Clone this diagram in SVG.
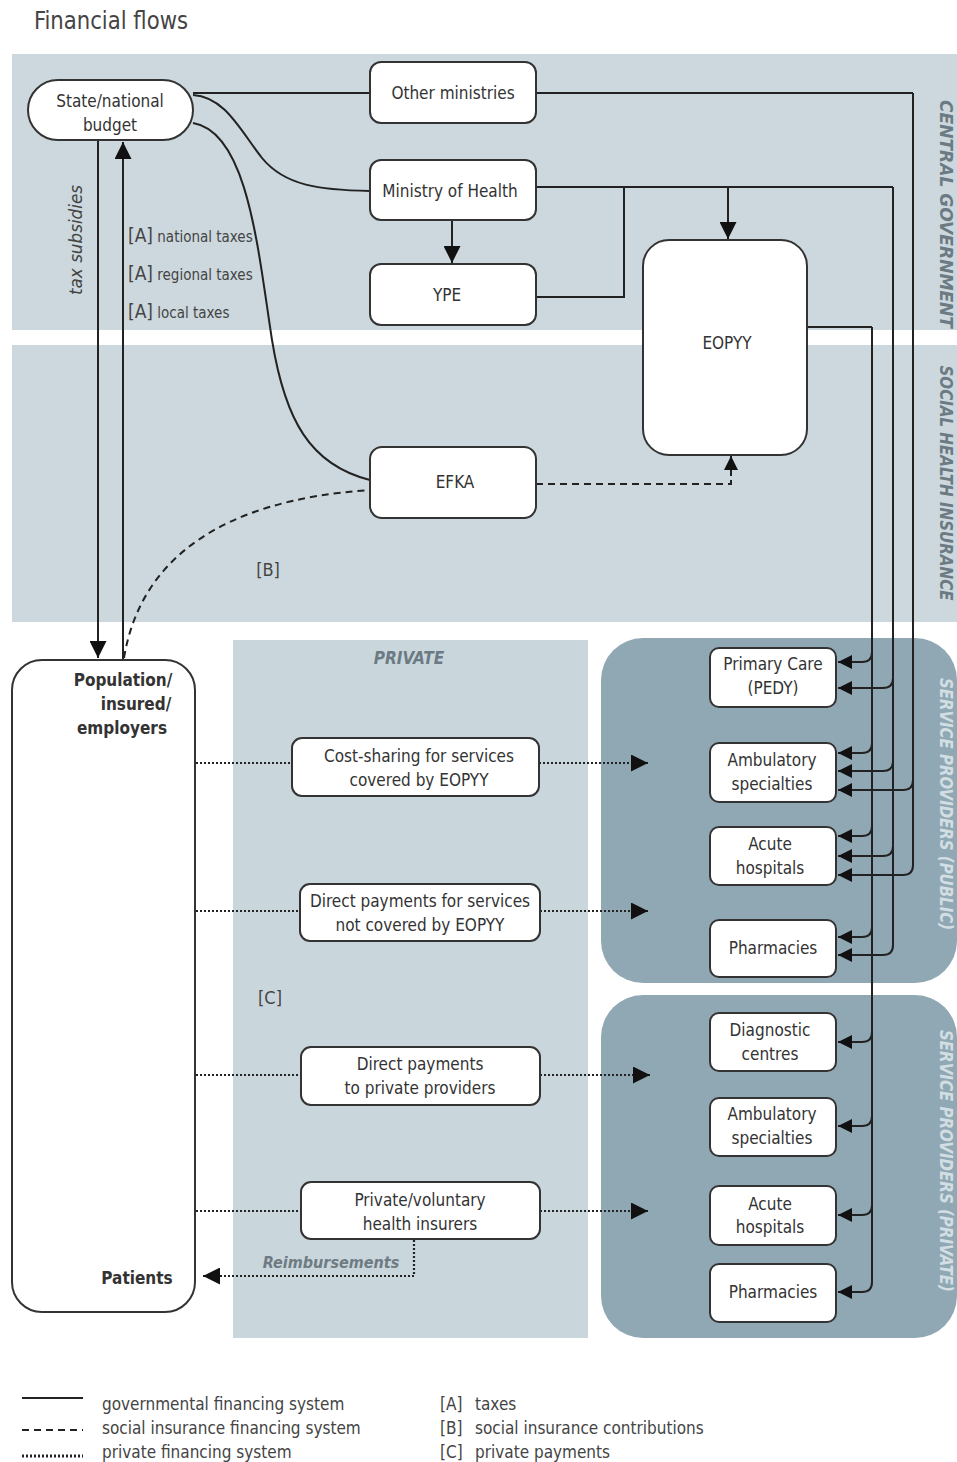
<svg xmlns="http://www.w3.org/2000/svg" width="957" height="1462" viewBox="0 0 957 1462">
<defs>
<style>
.t{font-family:"Liberation Sans Narrow","DejaVu Sans Condensed","Liberation Sans",sans-serif;fill:#333;font-size:17px;text-anchor:middle}
.bx{fill:#fff;stroke:#333;stroke-width:2}
.s{fill:none;stroke:#222;stroke-width:2}
.d{fill:none;stroke:#222;stroke-width:2;stroke-dasharray:7,5}
.p{fill:none;stroke:#222;stroke-width:2.2;stroke-dasharray:2,2}
.lab{font-family:"Liberation Sans Narrow","DejaVu Sans Condensed","Liberation Sans",sans-serif;fill:#444}
.vl{font-family:"Liberation Sans Narrow","DejaVu Sans Condensed","Liberation Sans",sans-serif;font-size:18px;font-weight:bold;font-style:italic;text-anchor:middle}
</style>
<marker id="a" viewBox="0 0 10 10" refX="10" refY="5" markerWidth="14" markerHeight="14" markerUnits="userSpaceOnUse" orient="auto"><path d="M0,0 L10,5 L0,10 z" fill="#111"/></marker>
<marker id="ab" viewBox="0 0 10 10" refX="10" refY="5" markerWidth="17" markerHeight="17" markerUnits="userSpaceOnUse" orient="auto"><path d="M0,0 L10,5 L0,10 z" fill="#111"/></marker>
</defs>
<rect width="957" height="1462" fill="#fff"/>
<text x="34" y="29" font-family="Liberation Sans Narrow,DejaVu Sans Condensed,sans-serif" font-size="24" fill="#444" textLength="154" lengthAdjust="spacingAndGlyphs">Financial flows</text>
<g id="bands">
<rect x="12" y="54" width="945" height="276" fill="#ccd8dd"/>
<rect x="12" y="345" width="945" height="277" fill="#ccd8dd"/>
<rect x="233" y="640" width="355" height="698" fill="#c9d6dc"/>
<rect x="601" y="638" width="356" height="345" rx="42" fill="#8fa8b4"/>
<rect x="601" y="995" width="356" height="343" rx="42" fill="#8fa8b4"/>
<text class="vl" fill="#6c7a83" transform="translate(940,214) rotate(90)" textLength="228" lengthAdjust="spacingAndGlyphs">CENTRAL GOVERNMENT</text>
<text class="vl" fill="#6c7a83" transform="translate(940,483) rotate(90)" textLength="235" lengthAdjust="spacingAndGlyphs">SOCIAL HEALTH INSURANCE</text>
<text class="vl" fill="#d3dee3" transform="translate(940,804) rotate(90)" textLength="252" lengthAdjust="spacingAndGlyphs">SERVICE PROVIDERS (PUBLIC)</text>
<text class="vl" fill="#d3dee3" transform="translate(940,1161) rotate(90)" textLength="262" lengthAdjust="spacingAndGlyphs">SERVICE PROVIDERS (PRIVATE)</text>
<text class="vl" fill="#6c7a83" x="409" y="664" style="font-size:17px">PRIVATE</text>
</g>
<g id="connectors">
<path class="s" d="M193,93 L370,93"/>
<path class="s" d="M193,95 C225,97 240,130 262,158 C285,186 320,190 370,191"/>
<path class="s" d="M193,123 C248,132 258,250 272,340 C285,420 310,465 370,480"/>
<path class="s" d="M98,141 L98,658" marker-end="url(#ab)"/>
<path class="s" d="M123,660 L123,142" marker-end="url(#ab)"/>
<path class="s" d="M452,220 L452,263" marker-end="url(#ab)"/>
<path class="s" d="M536,187 L893,187"/>
<path class="s" d="M728,187 L728,239" marker-end="url(#ab)"/>
<path class="s" d="M536,297 L624,297 L624,187"/>
<path class="s" d="M536,93 L913,93"/>
<path class="s" d="M807,327 L872,327"/>
<path class="d" d="M536,484 L731,484 L731,474"/>
<path class="s" d="M731,476 L731,456" marker-end="url(#a)"/>
<path class="d" d="M124,658 C140,560 220,500 370,490"/>
<path class="s" d="M872,327 L872,1282 Q872,1292 862,1292 L838,1292" marker-end="url(#a)"/>
<path class="s" d="M893,187 L893,945 Q893,955 883,955 L838,955" marker-end="url(#a)"/>
<path class="s" d="M913,93 L913,865 Q913,875 903,875 L838,875" marker-end="url(#a)"/>
<path class="s" d="M872,652 Q872,662 862,662 L838,662" marker-end="url(#a)"/>
<path class="s" d="M872,743 Q872,753 862,753 L838,753" marker-end="url(#a)"/>
<path class="s" d="M872,826 Q872,836 862,836 L838,836" marker-end="url(#a)"/>
<path class="s" d="M872,927 Q872,937 862,937 L838,937" marker-end="url(#a)"/>
<path class="s" d="M872,1032 Q872,1042 862,1042 L838,1042" marker-end="url(#a)"/>
<path class="s" d="M872,1116 Q872,1126 862,1126 L838,1126" marker-end="url(#a)"/>
<path class="s" d="M872,1205 Q872,1215 862,1215 L838,1215" marker-end="url(#a)"/>
<path class="s" d="M893,678 Q893,688 883,688 L838,688" marker-end="url(#a)"/>
<path class="s" d="M893,761 Q893,771 883,771 L838,771" marker-end="url(#a)"/>
<path class="s" d="M893,846 Q893,856 883,856 L838,856" marker-end="url(#a)"/>
<path class="s" d="M913,780 Q913,790 903,790 L838,790" marker-end="url(#a)"/>
<path class="p" d="M196,763 L292,763"/>
<path class="p" d="M539,763 L636,763"/>
<path class="s" d="M632,763 L648,763" marker-end="url(#ab)" stroke="none"/>
<path class="p" d="M196,911 L300,911"/>
<path class="p" d="M540,911 L636,911"/>
<path class="s" d="M632,911 L648,911" marker-end="url(#ab)" stroke="none"/>
<path class="p" d="M196,1075 L301,1075"/>
<path class="p" d="M540,1075 L638,1075"/>
<path class="s" d="M634,1075 L650,1075" marker-end="url(#ab)" stroke="none"/>
<path class="p" d="M196,1211 L301,1211"/>
<path class="p" d="M540,1211 L636,1211"/>
<path class="s" d="M632,1211 L648,1211" marker-end="url(#ab)" stroke="none"/>
<path class="p" d="M414,1240 L414,1276 L218,1276"/>
<path class="s" d="M222,1276 L203,1276" marker-end="url(#ab)" stroke="none"/>
</g>
<g id="labels">
<text class="lab" fill="#6f7b83" style="font-size:18px;font-style:italic" text-anchor="middle" transform="translate(82,240) rotate(-90)" textLength="110" lengthAdjust="spacingAndGlyphs">tax subsidies</text>
<text class="lab" x="128" y="242" style="font-size:15px"><tspan style="font-size:19px">[A]</tspan> national taxes</text>
<text class="lab" x="128" y="280" style="font-size:15px"><tspan style="font-size:19px">[A]</tspan> regional taxes</text>
<text class="lab" x="128" y="318" style="font-size:15px"><tspan style="font-size:19px">[A]</tspan> local taxes</text>
<text class="lab" x="268" y="576" style="font-size:18px" text-anchor="middle">[B]</text>
<text class="lab" x="270" y="1004" style="font-size:18px" text-anchor="middle">[C]</text>
<text class="vl" x="331" y="1268" fill="#6f7b83" style="font-size:16px">Reimbursements</text>
</g>
<g id="budget"><rect class="bx" x="28" y="80" width="165" height="60" rx="30"/><text class="t" x="110" y="107">State/national</text><text class="t" x="110" y="131">budget</text></g>
<g id="other"><rect class="bx" x="370" y="62" width="166" height="61" rx="11"/><text class="t" x="453" y="99">Other ministries</text></g>
<g id="moh"><rect class="bx" x="370" y="160" width="166" height="60" rx="11"/><text class="t" x="450" y="197">Ministry of Health</text></g>
<g id="ype"><rect class="bx" x="370" y="264" width="166" height="61" rx="11"/><text class="t" x="447" y="301">YPE</text></g>
<g id="eopyy"><rect class="bx" x="643" y="240" width="164" height="215" rx="26"/><text class="t" x="727" y="349">EOPYY</text></g>
<g id="efka"><rect class="bx" x="370" y="447" width="166" height="71" rx="12"/><text class="t" x="455" y="488">EFKA</text></g>
<g id="population"><rect class="bx" x="12" y="660" width="183" height="652" rx="30"/>
<text class="t" font-weight="bold" fill="#222" x="123" y="686">Population/</text>
<text class="t" font-weight="bold" fill="#222" x="136" y="710">insured/</text>
<text class="t" font-weight="bold" fill="#222" x="122" y="734">employers</text>
<text class="t" font-weight="bold" fill="#222" x="137" y="1284">Patients</text></g>
<g id="costsharing"><rect class="bx" x="292" y="738" width="247" height="58" rx="10"/><text class="t" x="419" y="762">Cost-sharing for services</text><text class="t" x="419" y="786">covered by EOPYY</text></g>
<g id="directnot"><rect class="bx" x="300" y="884" width="240" height="57" rx="10"/><text class="t" x="420" y="907">Direct payments for services</text><text class="t" x="420" y="931">not covered by EOPYY</text></g>
<g id="directpriv"><rect class="bx" x="301" y="1047" width="239" height="58" rx="10"/><text class="t" x="420" y="1070">Direct payments</text><text class="t" x="420" y="1094">to private providers</text></g>
<g id="vhi"><rect class="bx" x="301" y="1182" width="239" height="57" rx="10"/><text class="t" x="420" y="1206">Private/voluntary</text><text class="t" x="420" y="1230">health insurers</text></g>
<g id="pub-pc"><rect class="bx" x="710" y="648" width="126" height="59" rx="9"/><text class="t" x="773" y="670">Primary Care</text><text class="t" x="773" y="694">(PEDY)</text></g>
<g id="pub-amb"><rect class="bx" x="710" y="743" width="126" height="59" rx="9"/><text class="t" x="772" y="766">Ambulatory</text><text class="t" x="772" y="790">specialties</text></g>
<g id="pub-acute"><rect class="bx" x="710" y="827" width="126" height="58" rx="9"/><text class="t" x="770" y="850">Acute</text><text class="t" x="770" y="874">hospitals</text></g>
<g id="pub-pharm"><rect class="bx" x="710" y="920" width="126" height="57" rx="9"/><text class="t" x="773" y="954">Pharmacies</text></g>
<g id="priv-diag"><rect class="bx" x="710" y="1013" width="126" height="58" rx="9"/><text class="t" x="770" y="1036">Diagnostic</text><text class="t" x="770" y="1060">centres</text></g>
<g id="priv-amb"><rect class="bx" x="710" y="1098" width="126" height="58" rx="9"/><text class="t" x="772" y="1120">Ambulatory</text><text class="t" x="772" y="1144">specialties</text></g>
<g id="priv-acute"><rect class="bx" x="710" y="1186" width="126" height="59" rx="9"/><text class="t" x="770" y="1210">Acute</text><text class="t" x="770" y="1233">hospitals</text></g>
<g id="priv-pharm"><rect class="bx" x="710" y="1264" width="126" height="58" rx="9"/><text class="t" x="773" y="1298">Pharmacies</text></g>
<g id="legend">
<path class="s" d="M22,1398 L83,1398"/>
<path class="d" d="M22,1430 L83,1430"/>
<path class="p" d="M22,1456 L83,1456" style="stroke-width:3"/>
<text class="lab" style="font-size:17px" x="102" y="1410">governmental financing system</text>
<text class="lab" style="font-size:17px" x="102" y="1434">social insurance financing system</text>
<text class="lab" style="font-size:17px" x="102" y="1458">private financing system</text>
<text class="lab" style="font-size:17px" x="440" y="1410">[A]</text><text class="lab" style="font-size:17px" x="475" y="1410">taxes</text>
<text class="lab" style="font-size:17px" x="440" y="1434">[B]</text><text class="lab" style="font-size:17px" x="475" y="1434">social insurance contributions</text>
<text class="lab" style="font-size:17px" x="440" y="1458">[C]</text><text class="lab" style="font-size:17px" x="475" y="1458">private payments</text>
</g>
</svg>
